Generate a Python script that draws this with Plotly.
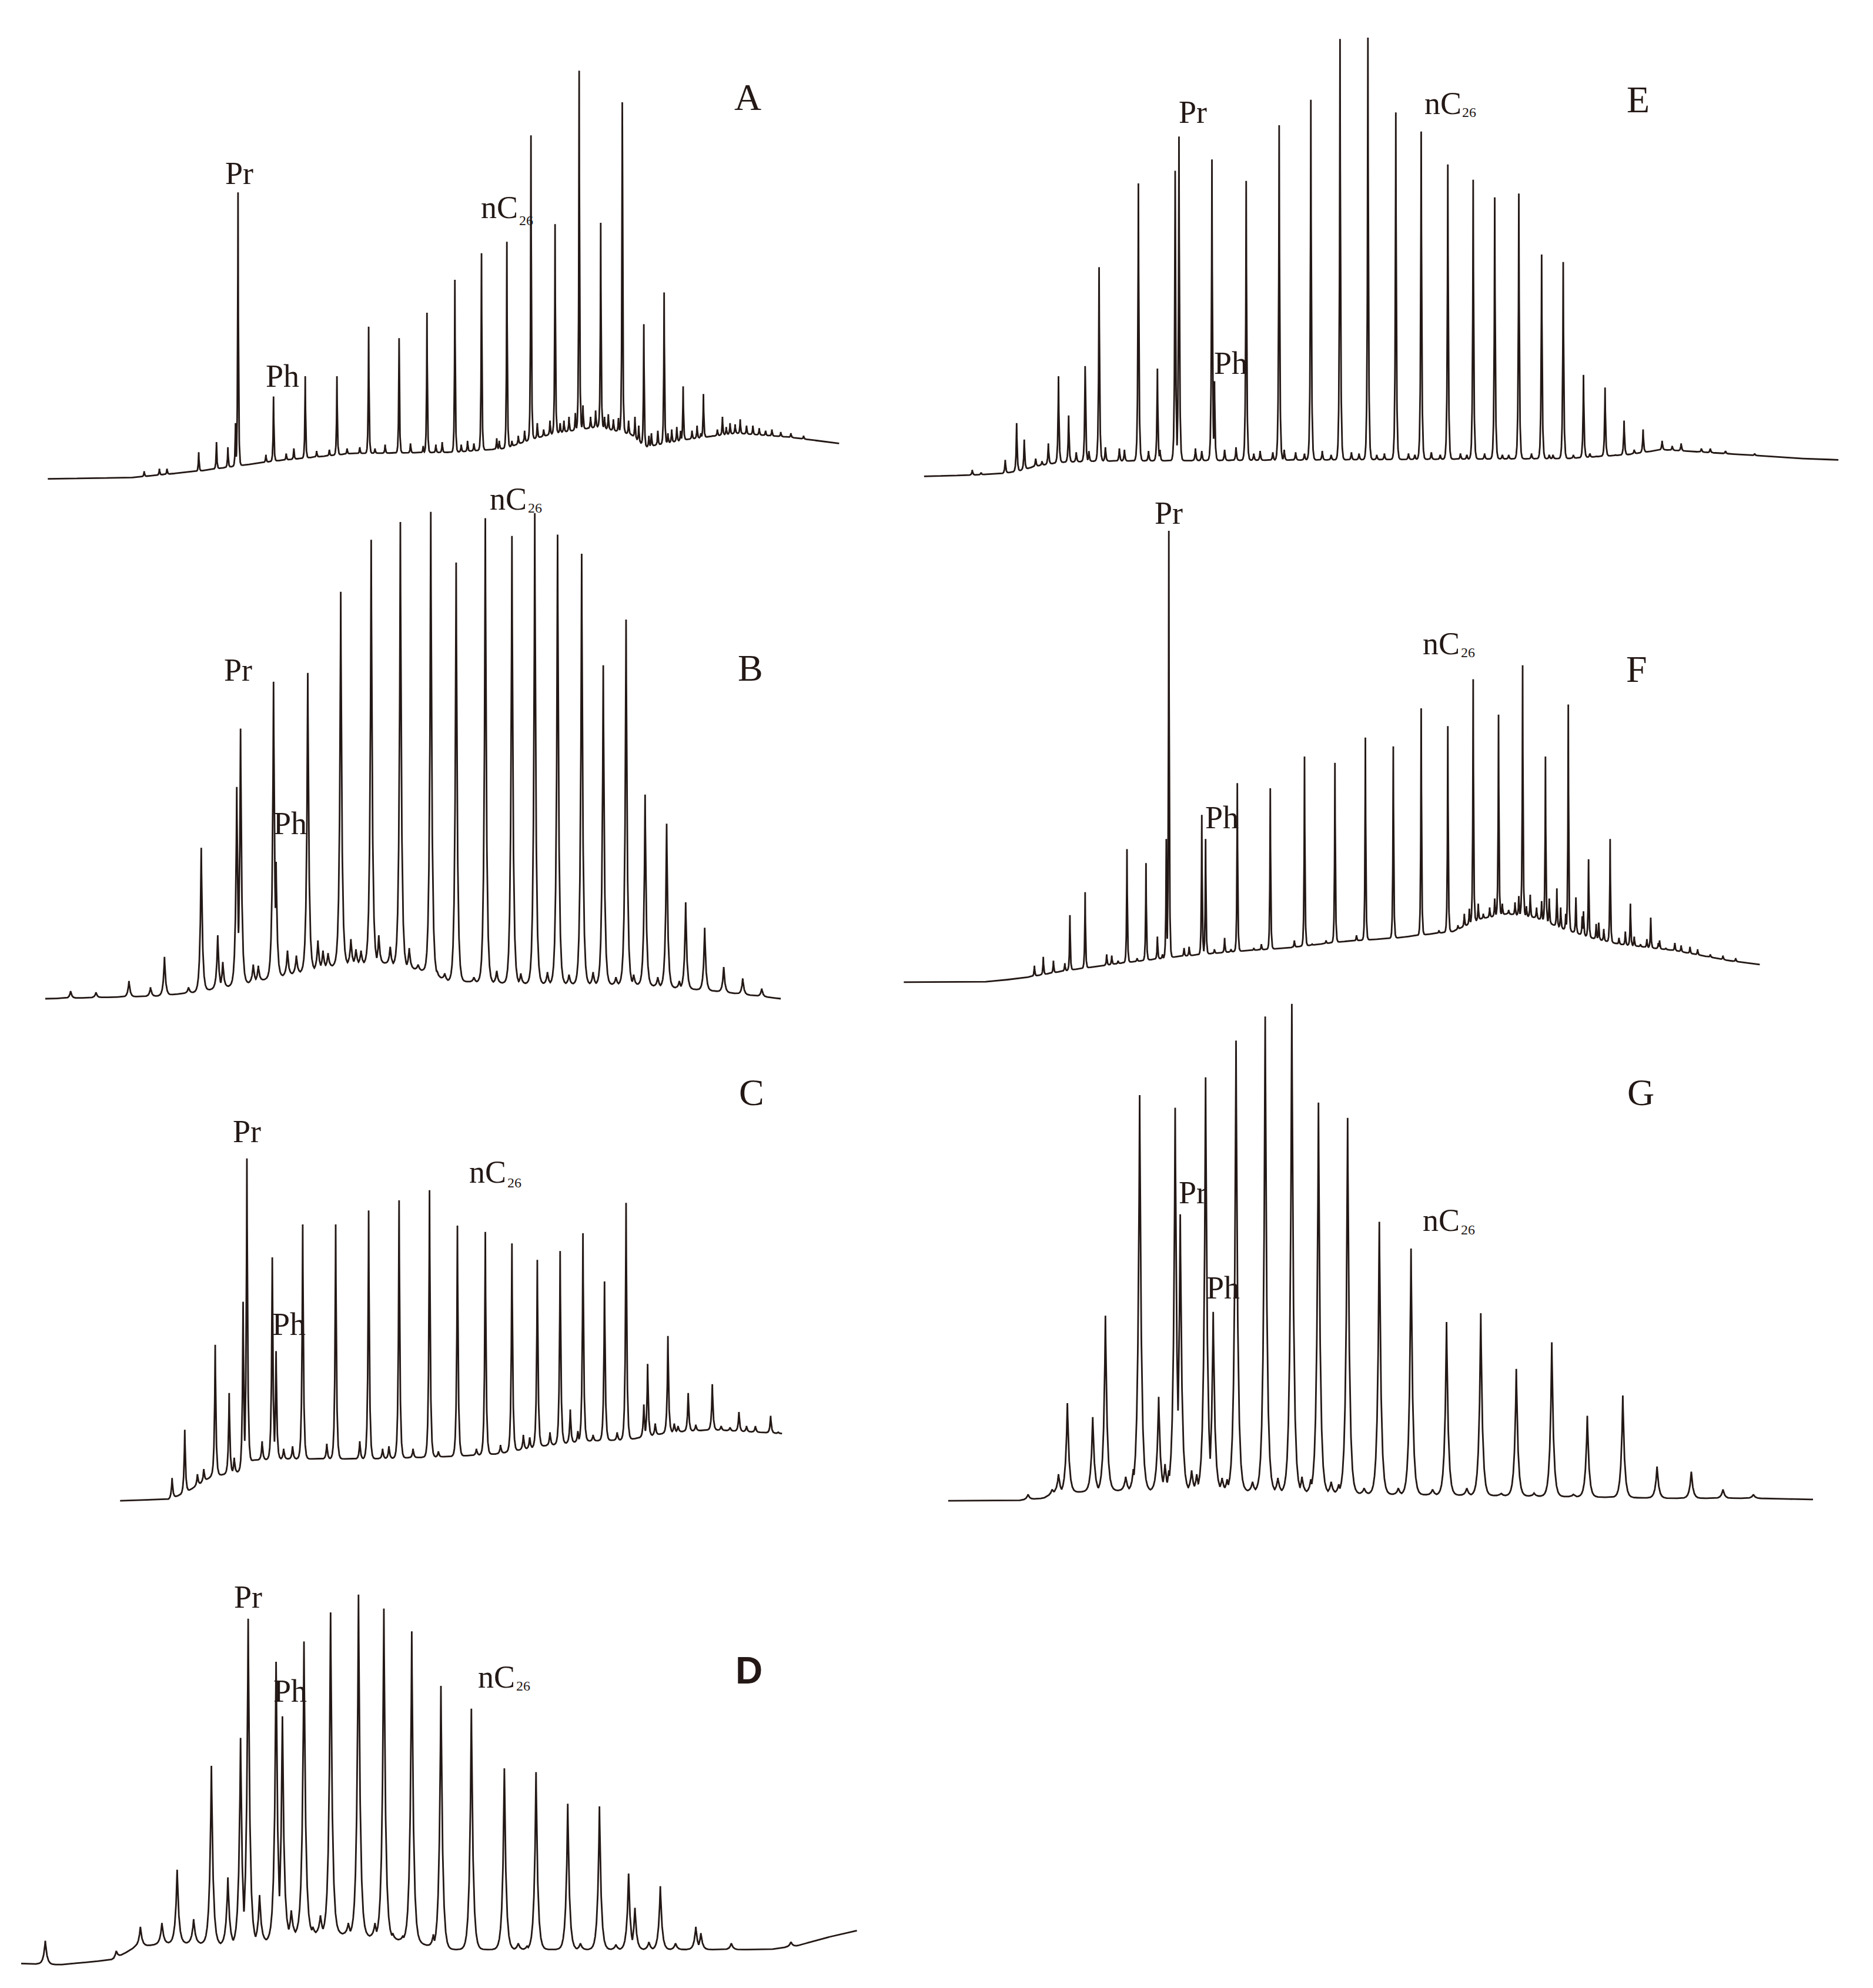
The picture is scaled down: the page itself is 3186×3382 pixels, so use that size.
import numpy as np
import plotly.graph_objects as go

# Gas chromatograms of saturated hydrocarbons, panels A-G.
# Retention time in minutes, detector signal in arbitrary units.

# ---- A ----
A_base_t = [0.4, 7.0, 12.2, 18.2, 24.3, 32.4, 36.5, 38.5, 40.4, 43.8, 46.4, 47.5, 50.7, 54.7, 58.8, 62.8]
A_base_s = [6, 7, 12, 20, 26, 27, 30, 37, 42, 47, 41, 31, 37, 42, 39, 34]
A_peak_t = [15.4, 18.2, 20.7, 23.2, 25.7, 28.1, 30.3, 32.5, 34.6, 36.6, 38.5, 40.4, 42.3, 44.0, 45.7, 47.4, 49.0, 50.5, 52.1, 53.6]
A_peak_s = [232, 71, 87, 87, 126, 117, 137, 163, 184, 193, 277, 207, 328, 208, 303, 128, 153, 79, 73, 55]
A_minor_t = [8.0, 9.2, 9.8, 12.3, 13.7, 14.6, 15.2, 17.6, 19.2, 19.8, 21.6, 22.6, 24.0, 25.0, 26.2, 27.0, 29.0, 30.0, 31.0,
             31.5, 33.0, 33.5, 34.0, 35.8, 36.0, 37.0, 37.5, 38.0, 39.0, 39.5, 40.0, 40.8, 41.1, 41.5, 42.0, 42.6, 43.2,
             43.6, 44.3, 44.6, 45.0, 45.4, 46.2, 46.7, 47.0, 47.8, 48.0, 48.5, 49.3, 49.6, 50.0, 50.3, 51.2, 51.6, 51.9,
             52.8, 53.2, 53.9, 54.2, 54.6, 55.0, 55.5, 56.0, 56.5, 57.0, 57.5, 58.2, 59.0, 60.0]
A_minor_s = [12, 14, 14, 27, 35, 31, 50, 25, 26, 30, 28, 29, 30, 31, 30, 33, 34, 32, 33,
             35, 33, 36, 34, 38, 36, 36, 40, 44, 50, 45, 52, 50, 52, 55, 58, 64, 55,
             60, 55, 57, 53, 54, 52, 55, 48, 40, 42, 44, 42, 45, 47, 44, 44, 48, 42,
             40, 45, 47, 50, 49, 53, 48, 48, 46, 44, 45, 43, 42, 40]

# ---- B ----
B_base_t = [0.2, 9.0, 12.0, 16.0, 20.0, 23.5, 27.0, 30.0, 32.0, 37.0, 47.0, 53.0, 58.2]
B_base_s = [6, 8, 11, 18, 26, 33, 34, 28, 20, 18, 17, 12, 6]
B_peak_t = [12.5, 15.3, 15.6, 18.2, 18.4, 20.9, 23.5, 25.9, 28.2, 30.6, 32.6, 34.9, 37.0, 38.8, 40.6, 42.5, 44.2, 46.0, 47.5,
            49.2, 50.7, 52.2, 53.7, 55.2, 56.7]
B_peak_s = [125, 173, 219, 256, 114, 263, 327, 368, 382, 390, 350, 385, 371, 389, 372, 357, 269, 305, 167,
            144, 82, 62, 31, 22, 14]
B_minor_t = [2.2, 4.2, 6.8, 8.5, 9.6, 11.5, 13.8, 14.2, 16.6, 17.0, 19.3, 20.0, 21.7, 22.1, 22.5, 24.3, 24.7, 25.1, 26.5, 27.4,
             28.9, 29.6, 31.1, 31.7, 34.0, 35.8, 37.7, 39.8, 41.5, 43.4, 44.5, 45.2, 46.6, 48.5, 50.2]
B_minor_s = [12, 11, 20, 15, 39, 15, 56, 35, 33, 32, 44, 40, 52, 44, 42, 53, 45, 44, 56, 47,
             46, 33, 28, 26, 23, 28, 26, 27, 25, 27, 26, 23, 25, 23, 20]

# ---- C ----
C_base_t = [0.1, 3.9, 5.2, 7.3, 9.6, 10.6, 13.0, 19.8, 26.5, 29.9, 33.3, 36.7, 40.1, 43.5, 46.8, 52.3]
C_base_s = [5, 6, 11, 24, 28, 37, 38, 38, 40, 42, 48, 52, 53, 59, 61, 58]
C_peak_t = [4.2, 5.2, 7.6, 8.7, 9.8, 10.1, 12.1, 12.4, 14.5, 17.1, 19.7, 22.1, 24.5, 26.7, 28.9, 31.0, 33.0, 34.8, 36.6,
            38.3, 40.0, 41.7, 43.3, 44.9, 46.8, 48.9, 51.4]
C_peak_s = [23, 61, 128, 90, 162, 275, 197, 123, 223, 223, 234, 242, 250, 222, 217, 208, 195, 202, 216,
            178, 240, 113, 135, 90, 97, 75, 72]
C_minor_t = [6.2, 6.7, 9.1, 11.3, 13.0, 13.7, 16.4, 19.0, 20.8, 21.3, 23.2, 25.2, 28.2, 30.1, 31.9, 32.4, 34.0, 35.6, 36.2,
             37.4, 39.3, 41.4, 42.3, 43.8, 44.1, 45.5, 47.5, 48.2, 49.5, 50.2, 52.0]
C_minor_s = [26, 30, 39, 52, 46, 48, 50, 52, 46, 48, 46, 44, 46, 49, 57, 55, 59, 77, 60,
             57, 59, 81, 66, 66, 64, 65, 64, 63, 64, 64, 59]

# ---- D ----
D_base_t = [0.3, 3.3, 7.6, 9.3, 11.9, 14.1, 16.2, 19.7, 21.8, 24.8, 29.1, 31.7, 33.4, 37.7, 59.3, 61.5, 63.6, 66.2]
D_base_s = [5, 4, 8, 18, 21, 21, 20, 23, 28, 29, 25, 21, 16, 16, 16, 19, 25, 31]
D_peak_t = [2.2, 7.8, 9.7, 11.4, 12.6, 13.9, 15.3, 16.6, 17.6, 18.2, 19.1, 20.4, 20.9, 22.6, 24.7, 26.9, 28.9, 31.1,
            33.4, 35.8, 38.4, 40.9, 43.4, 45.9, 48.2, 48.7, 50.7, 53.5, 56.3, 61.0]
D_peak_s = [23, 15, 34, 37, 79, 40, 161, 73, 183, 277, 59, 243, 200, 259, 282, 296, 285, 267,
            224, 206, 159, 156, 131, 129, 76, 49, 66, 34, 21, 22]
D_minor_t = [21.6, 23.3, 23.9, 26.1, 28.2, 29.6, 30.4, 32.8, 39.5, 40.2, 44.4, 47.2, 49.8, 51.9, 53.9]
D_minor_s = [47, 34, 43, 37, 37, 29, 27, 28, 21, 19, 21, 20, 22, 21, 29]

# ---- E ----
E_base_t = [0.5, 4.2, 6.5, 7.9, 9.3, 11.2, 14.0, 32.6, 51.2, 55.9, 58.7, 60.5, 65.2, 69.8, 72.6]
E_base_s = [3, 4, 5, 7, 11, 14, 15, 16, 17, 20, 24, 23, 20, 17, 16]
E_peak_t = [4.3, 6.9, 7.8, 8.4, 10.3, 11.1, 11.9, 13.2, 14.3, 17.4, 18.9, 20.3, 20.6, 23.2, 23.4, 25.9, 28.5, 31.0,
            33.3, 35.5, 37.7, 39.7, 41.8, 43.8, 45.5, 47.4, 49.2, 50.9, 52.5, 54.2, 55.7, 57.2, 58.7, 60.2, 61.8, 63.7]
E_peak_s = [8, 16, 45, 32, 29, 82, 51, 90, 168, 234, 88, 244, 271, 253, 78, 236, 280, 300,
            348, 349, 290, 275, 249, 237, 223, 226, 178, 172, 83, 73, 47, 40, 31, 29, 25, 23]
E_minor_t = [5.0, 9.3, 9.8, 12.5, 13.5, 14.8, 15.9, 16.3, 18.2, 19.1, 21.9, 22.4, 24.2, 25.1, 26.5, 27.0, 28.0, 28.9, 29.8,
             30.5, 31.9, 32.6, 34.2, 34.8, 36.2, 36.8, 38.7, 39.2, 40.5, 41.2, 42.8, 43.3, 44.7, 46.1, 46.6, 48.4,
             49.8, 50.1, 51.7, 53.0, 53.5, 55.0, 56.5, 59.5, 62.5, 66.0]
E_minor_s = [6, 17, 15, 22, 23, 26, 25, 24, 23, 24, 25, 23, 24, 26, 21, 23, 22, 24, 22,
             21, 23, 20, 22, 21, 20, 21, 21, 20, 22, 20, 21, 20, 21, 20, 20, 21,
             20, 20, 20, 21, 19, 20, 24, 27, 25, 21]

# ---- F ----
F_base_t = [0.4, 6.5, 9.6, 13.1, 17.5, 21.8, 26.2, 30.6, 34.9, 39.3, 43.7, 45.9, 48.0, 50.2, 52.4, 54.6, 56.8, 61.2, 65.5, 67.9]
F_base_s = [4, 4, 7, 13, 19, 24, 28, 31, 36, 39, 44, 54, 58, 55, 46, 39, 34, 29, 21, 18]
F_peak_t = [10.7, 11.4, 13.5, 14.7, 18.0, 19.5, 21.1, 21.3, 23.9, 24.2, 26.7, 29.3, 32.0, 34.4, 36.8, 39.0, 41.2, 43.3,
            45.3, 47.3, 49.2, 51.0, 52.8, 54.4, 56.1, 57.7, 59.3]
F_peak_s = [17, 24, 57, 75, 109, 98, 117, 360, 136, 117, 161, 157, 182, 177, 197, 190, 220, 206,
            243, 215, 254, 182, 223, 101, 117, 66, 55]
F_minor_t = [12.2, 13.1, 16.4, 16.8, 17.3, 18.8, 20.4, 20.8, 22.5, 22.9, 24.9, 25.7, 26.2, 28.0, 28.6, 30.5, 31.2, 32.6,
             33.7, 35.4, 36.1, 37.6, 38.5, 40.0, 42.0, 42.6, 44.1, 44.6, 45.0, 45.7, 46.1, 46.6, 47.0, 47.6, 48.1,
             48.6, 48.9, 49.5, 49.8, 50.3, 50.7, 51.3, 51.9, 52.2, 52.6, 53.4, 53.9, 54.0, 55.0, 55.2, 55.6, 56.8,
             57.3, 58.0, 58.5, 59.0, 59.9, 60.0, 60.5, 61.2, 61.7, 62.4, 63.0, 64.0, 65.0, 66.0]
F_minor_s = [21, 19, 26, 25, 21, 23, 40, 26, 31, 32, 30, 39, 30, 31, 34, 30, 37, 34,
             37, 36, 41, 37, 38, 40, 41, 45, 49, 58, 62, 66, 58, 63, 70, 66, 61,
             67, 72, 64, 73, 63, 68, 70, 78, 63, 58, 71, 56, 60, 50, 51, 46, 39,
             44, 40, 34, 38, 35, 37, 31, 35, 33, 32, 30, 26, 25, 23]

# ---- G ----
G_base_t = [0.4, 5.7, 7.9, 8.8, 13.2, 22.0, 30.8, 35.2, 44.0, 57.2, 63.8, 68.6]
G_base_s = [5, 5, 7, 11, 13, 13, 11, 10, 9, 7, 7, 6]
G_peak_t = [6.7, 9.1, 9.8, 11.8, 12.8, 15.5, 17.0, 18.3, 18.7, 20.7, 21.3, 23.1, 25.4, 27.5, 29.6, 31.9, 34.4, 36.9,
            39.7, 42.4, 45.2, 48.0, 50.8, 53.6, 56.3, 59.0, 61.5, 63.9]
G_peak_s = [10, 26, 82, 71, 151, 325, 87, 315, 231, 339, 154, 368, 387, 397, 319, 307, 225, 204,
            146, 153, 109, 130, 72, 88, 32, 28, 14, 10]
G_minor_t = [8.6, 14.4, 15.0, 17.5, 17.8, 19.6, 20.0, 22.0, 22.4, 24.4, 25.0, 26.4, 28.3, 29.0, 30.6, 31.2, 33.2, 35.9,
             38.6, 41.3, 44.0, 46.6, 49.7]
G_minor_s = [14, 24, 30, 34, 29, 29, 26, 23, 22, 20, 23, 23, 24, 22, 20, 18, 15, 15,
             14, 15, 11, 11, 10]

INK = "#231815"
SERIF = "Liberation Serif"
W_REF, H_REF = 1477, 1568  # preview grid used for placement

# panel: data, peak decay width, placement box (left, right, top, bottom) on the preview grid
panels = [
    ("A", A_base_t, A_base_s, A_peak_t + A_minor_t, A_peak_s + A_minor_s, 0.04, (30, 662, 40, 380)),
    ("B", B_base_t, B_base_s, B_peak_t + B_minor_t, B_peak_s + B_minor_s, 0.10, (30, 615, 375, 790)),
    ("C", C_base_t, C_base_s, C_peak_t + C_minor_t, C_peak_s + C_minor_s, 0.07, (90, 615, 835, 1185)),
    ("D", D_base_t, D_base_s, D_peak_t + D_minor_t, D_peak_s + D_minor_s, 0.14, (10, 675, 1240, 1550)),
    ("E", E_base_t, E_base_s, E_peak_t + E_minor_t, E_peak_s + E_minor_s, 0.05, (720, 1450, 20, 375)),
    ("F", F_base_t, F_base_s, F_peak_t + F_minor_t, F_peak_s + F_minor_s, 0.04, (705, 1390, 380, 775)),
    ("G", G_base_t, G_base_s, G_peak_t + G_minor_t, G_peak_s + G_minor_s, 0.14, (740, 1430, 780, 1185)),
]


def chromatogram(base_t, base_s, peak_t, peak_s, tau):
    t = np.union1d(np.linspace(base_t[0], base_t[-1], 8000), peak_t)
    t = t[(t >= base_t[0]) & (t <= base_t[-1])]
    base = np.interp(t, base_t, base_s)
    y = base.copy()
    for pt, ps in zip(peak_t, peak_s):
        h = ps - np.interp(pt, base_t, base_s)
        if h <= 0:
            continue
        y = np.maximum(y, base + h * np.exp(-np.abs(t - pt) / tau))
    return t, y


fig = go.Figure()
layout_axes = {}
for i, (name, bt, bs, pt, ps, tau, box) in enumerate(panels, start=1):
    left, right, top, bottom = box
    t, y = chromatogram(bt, bs, pt, ps, tau)
    sfx = "" if i == 1 else str(i)
    fig.add_trace(go.Scatter(x=t, y=y, mode="lines", xaxis="x" + sfx, yaxis="y" + sfx,
                             line=dict(color=INK, width=2.8), hoverinfo="skip", name=name))
    layout_axes["xaxis" + sfx] = dict(domain=[left / W_REF, right / W_REF], range=[0, (right - left) / 10],
                                      visible=False, anchor="y" + sfx)
    layout_axes["yaxis" + sfx] = dict(domain=[1 - bottom / H_REF, 1 - top / H_REF], range=[0, bottom - top],
                                      visible=False, anchor="x" + sfx)

# text labels: panel letter, Pr, Ph, nC + subscript 26 (positions on preview grid)
labels = {
    "A": dict(letter=(586, 73), pr=(185, 133), ph=(219, 293), nc=(390, 160), sub=(411, 170)),
    "B": dict(letter=(588, 523), pr=(184, 525), ph=(225, 646), nc=(397, 390), sub=(418, 397)),
    "C": dict(letter=(589, 858), pr=(191, 889), ph=(224, 1041), nc=(381, 921), sub=(402, 929)),
    "D": dict(letter=(587, 1314), pr=(192, 1256), ph=(225, 1330), nc=(388, 1319), sub=(409, 1326)),
    "E": dict(letter=(1288, 75), pr=(937, 85), ph=(967, 283), nc=(1134, 78), sub=(1155, 85)),
    "F": dict(letter=(1287, 524), pr=(918, 401), ph=(960, 641), nc=(1133, 504), sub=(1154, 511)),
    "G": dict(letter=(1290, 858), pr=(937, 937), ph=(961, 1012), nc=(1133, 959), sub=(1154, 966)),
}


def put(text, pos, size, family=SERIF):
    fig.add_annotation(x=pos[0] / W_REF, y=1 - pos[1] / H_REF, xref="paper", yref="paper",
                       text=text, showarrow=False, xanchor="center", yanchor="middle",
                       font=dict(family=family, size=size, color=INK))


for name, lab in labels.items():
    if name == "D":
        put("<b>D</b>", lab["letter"], 64, family="Liberation Sans")
    else:
        put(name, lab["letter"], 64)
    put("Pr", lab["pr"], 54)
    put("Ph", lab["ph"], 54)
    put("nC", lab["nc"], 54)
    put("26", lab["sub"], 24)

fig.update_layout(width=3186, height=3382, margin=dict(l=0, r=0, t=0, b=0),
                  paper_bgcolor="white", plot_bgcolor="white", showlegend=False, **layout_axes)

fig.write_html("out.html")
